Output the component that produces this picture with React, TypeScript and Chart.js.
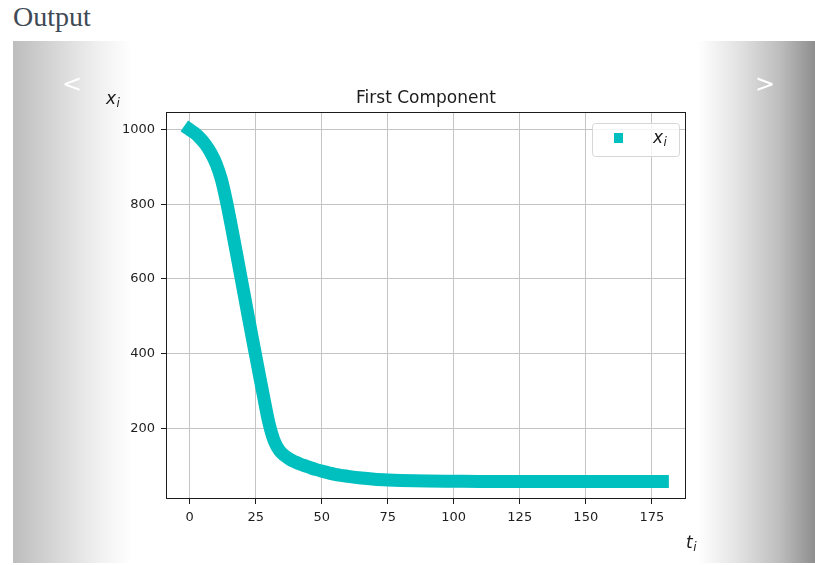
import React, { useEffect, useRef } from "react";
import { Chart, registerables } from "chart.js";

Chart.register(...registerables);

// ---- data ----
const timeSteps = [
  0, 2, 4, 6, 8, 10, 12, 14, 16, 18, 20, 22, 24, 26, 28, 30, 32, 34, 36, 38,
  40, 42, 44, 46, 48, 50, 55, 60, 65, 70, 75, 80, 85, 90, 100, 110, 120, 130,
  140, 150, 160, 170, 179,
];
const xValues = [
  1000, 990, 977, 960, 938, 909, 867, 806, 734, 659, 583, 507, 432, 358, 285,
  215, 167, 141, 127, 117, 110, 104, 99, 94, 89.5, 85.5, 77, 71.5, 67, 64, 62,
  60.5, 59.5, 59, 58.5, 58, 58, 58, 58, 58, 58, 58, 58,
];
const xTickValues = [0, 25, 50, 75, 100, 125, 150, 175];
const yTickValues = [200, 400, 600, 800, 1000];
const titleText = "First Component";
const seriesName = "x";
const seriesSub = "i";
const xAxisName = "t";
const yAxisName = "x";
const axisSub = "i";

const CYAN = "#00bfbf";
const INK = "#1c1c1c";

function drawSub(ctx: CanvasRenderingContext2D, main: string, sub: string, x: number, y: number, size: number) {
  ctx.save();
  ctx.textAlign = "left";
  ctx.textBaseline = "alphabetic";
  ctx.fillStyle = INK;
  ctx.font = `italic ${size}px 'DejaVu Sans'`;
  ctx.fillText(main, x, y);
  const w = ctx.measureText(main).width;
  ctx.font = `italic ${Math.round(size * 0.7)}px 'DejaVu Sans'`;
  ctx.fillText(sub, x + w + 0.5, y + size * 0.18);
  ctx.restore();
}

const decorPlugin = {
  id: "decor",
  afterDraw(chart: any) {
    const { ctx, chartArea: a } = chart;
    ctx.save();
    // frame
    ctx.strokeStyle = INK;
    ctx.lineWidth = 1;
    ctx.strokeRect(Math.round(a.left) + 0.5, Math.round(a.top) + 0.5, Math.round(a.right - a.left) - 1, Math.round(a.bottom - a.top) - 1);
    // title
    ctx.fillStyle = INK;
    ctx.font = "17px 'DejaVu Sans'";
    ctx.textAlign = "center";
    ctx.textBaseline = "alphabetic";
    ctx.fillText(titleText, (a.left + a.right) / 2, a.top - 9);
    // axis labels
    drawSub(ctx, yAxisName, axisSub, a.left - 60, a.top - 8, 17);
    drawSub(ctx, xAxisName, axisSub, a.right, a.bottom + 49, 17);
    // legend
    const lx = a.right - 94;
    const ly = a.top + 11;
    const lw = 87;
    const lh = 33;
    ctx.fillStyle = "rgba(255,255,255,0.8)";
    ctx.strokeStyle = "#d6d6d6";
    ctx.lineWidth = 1;
    ctx.beginPath();
    (ctx as any).roundRect(lx + 0.5, ly + 0.5, lw, lh, 3);
    ctx.fill();
    ctx.stroke();
    ctx.fillStyle = CYAN;
    ctx.fillRect(a.right - 72, a.top + 21, 9, 10);
    drawSub(ctx, seriesName, seriesSub, a.right - 33, a.top + 31, 17);
    ctx.restore();
  },
};

export default function App() {
  const ref = useRef<HTMLCanvasElement>(null);

  useEffect(() => {
    const canvas = ref.current;
    if (!canvas) return;
    const points = timeSteps.map((t, i) => ({ x: t, y: xValues[i] }));
    const tMin = Math.min(...timeSteps);
    const tMax = Math.max(...timeSteps);
    const vMin = Math.min(...xValues);
    const vMax = Math.max(...xValues);
    const tPad = (tMax - tMin) * 0.05;
    const vPad = (vMax - vMin) * 0.05;

    const chart = new Chart(canvas, {
      type: "line",
      data: {
        datasets: [
          {
            label: "x_i",
            data: points,
            borderColor: CYAN,
            backgroundColor: CYAN,
            borderWidth: 13,
            borderCapStyle: "square",
            borderJoinStyle: "round",
            pointRadius: 0,
            cubicInterpolationMode: "monotone",
            fill: false,
          },
        ],
      },
      options: {
        responsive: false,
        animation: false,
        devicePixelRatio: 1,
        layout: { padding: { left: 0, top: 112, right: 129, bottom: 0 } },
        plugins: {
          legend: { display: false },
          title: { display: false },
          tooltip: { enabled: false },
        },
        scales: {
          x: {
            type: "linear",
            min: tMin - tPad,
            max: tMax + tPad,
            afterBuildTicks: (s: any) => {
              s.ticks = xTickValues.map((v) => ({ value: v }));
            },
            afterFit: (s: any) => {
              s.height = 66;
            },
            grid: {
              color: "#c4c4c4",
              lineWidth: 1,
              tickLength: 5,
              tickColor: INK,
              tickWidth: 1,
            },
            border: { display: false },
            ticks: {
              color: "#1e1e1e",
              font: { family: "'DejaVu Sans'", size: 13 },
              padding: 6,
              maxRotation: 0,
              callback: (v: any) => String(v),
            },
          },
          y: {
            type: "linear",
            min: vMin - vPad,
            max: vMax + vPad,
            afterBuildTicks: (s: any) => {
              s.ticks = yTickValues.map((v) => ({ value: v }));
            },
            afterFit: (s: any) => {
              s.width = 166;
            },
            grid: {
              color: "#c4c4c4",
              lineWidth: 1,
              tickLength: 5,
              tickColor: INK,
              tickWidth: 1,
            },
            border: { display: false },
            ticks: {
              color: "#1e1e1e",
              font: { family: "'DejaVu Sans'", size: 13 },
              padding: 6,
              callback: (v: any) => String(v),
            },
          },
        },
      },
      plugins: [decorPlugin],
    } as any);
    return () => chart.destroy();
  }, []);

  return (
    <div
      style={{
        position: "absolute",
        left: 0,
        top: 0,
        width: 815,
        height: 565,
        background: "#ffffff",
        overflow: "hidden",
      }}
    >
      <div
        style={{
          position: "absolute",
          left: 13,
          top: 3,
          fontFamily: "'Liberation Serif', serif",
          fontSize: 28,
          lineHeight: "28px",
          color: "#404a55",
        }}
      >
        Output
      </div>
      <div
        style={{
          position: "absolute",
          left: 13,
          top: 41,
          width: 119,
          height: 522,
          background: "linear-gradient(to right, #bdbdbd 0%, #d6d6d6 35%, #efefef 70%, #ffffff 100%)",
        }}
      />
      <div
        style={{
          position: "absolute",
          left: 698,
          top: 41,
          width: 117,
          height: 522,
          background: "linear-gradient(to right, #ffffff 0%, #e2e2e2 35%, #bdbdbd 70%, #8e8e8e 100%)",
        }}
      />
      <canvas
        ref={ref}
        width={815}
        height={565}
        style={{ position: "absolute", left: 0, top: 0, width: 815, height: 565 }}
      />
      <div
        style={{
          position: "absolute",
          left: 52,
          top: 68,
          width: 40,
          textAlign: "center",
          fontFamily: "'DejaVu Sans', sans-serif",
          fontSize: 24,
          lineHeight: "32px",
          color: "#ffffff",
        }}
      >
        &lt;
      </div>
      <div
        style={{
          position: "absolute",
          left: 745,
          top: 68,
          width: 40,
          textAlign: "center",
          fontFamily: "'DejaVu Sans', sans-serif",
          fontSize: 24,
          lineHeight: "32px",
          color: "#ffffff",
        }}
      >
        &gt;
      </div>
    </div>
  );
}
